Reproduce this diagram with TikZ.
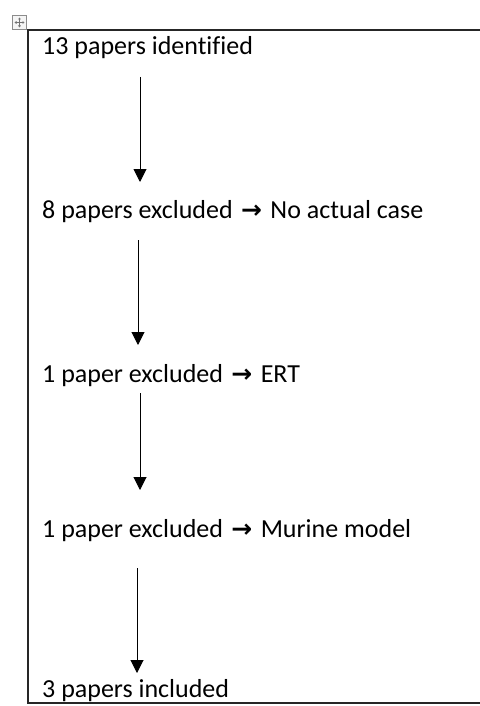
\documentclass[tikz,border=0pt]{standalone}
\usepackage{fontspec}
\setmainfont{Carlito}[Ligatures=CommonOff]
\newfontfamily\arrowfont{DejaVu Sans}[BoldFont=DejaVu Sans Bold]
\usetikzlibrary{arrows.meta}
\newcommand{\rarr}{\makebox[26pt][c]{\arrowfont\bfseries\fontsize{25}{31}\selectfont →}}
\begin{document}
\begin{tikzpicture}[x=1pt,y=-1pt,
  txt/.style={anchor=base west,inner sep=0pt,font=\fontsize{26}{31}\selectfont},
  flow/.style={-{Triangle[width=13pt,length=13pt]},line width=1pt,black},
  frame/.style={line width=1.2pt,black!85},
  handle/.style={line width=0.6pt,black!55}]
\useasboundingbox (0,0) rectangle (479,706);
% table frame (open on the right, clipped by page)
\draw[frame] (482,30) -- (28,30) -- (28,703) -- (482,703);
% move handle
\draw[black!45,line width=0.8pt,fill=black!4] (12.5,15.5) rectangle (26.5,29.5);
\coordinate (hc) at (19.5,22.5);
\draw[handle,-{Triangle[width=2.6pt,length=2pt]}] (hc) -- ++(0,-5);
\draw[handle,-{Triangle[width=2.6pt,length=2pt]}] (hc) -- ++(0,5);
\draw[handle,-{Triangle[width=2.6pt,length=2pt]}] (hc) -- ++(-5,0);
\draw[handle,-{Triangle[width=2.6pt,length=2pt]}] (hc) -- ++(5,0);
% texts
\node[txt] (t1) at (42,55) {13 papers identified};
\node[txt] (t2) at (42,218) {8 papers excluded \rarr{} No actual case};
\node[txt] (t3) at (42,382) {1 paper excluded \rarr{} ERT};
\node[txt] (t4) at (42,537) {1 paper excluded \rarr{} Murine model};
\node[txt] (t5) at (42,697) {3 papers included};
% arrow end points
\coordinate (a1s) at (140,77);  \coordinate (a1e) at (140,182);
\coordinate (a2s) at (138,240); \coordinate (a2e) at (138,345);
\coordinate (a3s) at (140,393); \coordinate (a3e) at (140,490);
\coordinate (a4s) at (137,568); \coordinate (a4e) at (137,673);
\draw[flow] (a1s) -- (a1e);
\draw[flow] (a2s) -- (a2e);
\draw[flow] (a3s) -- (a3e);
\draw[flow] (a4s) -- (a4e);
\end{tikzpicture}
\end{document}
